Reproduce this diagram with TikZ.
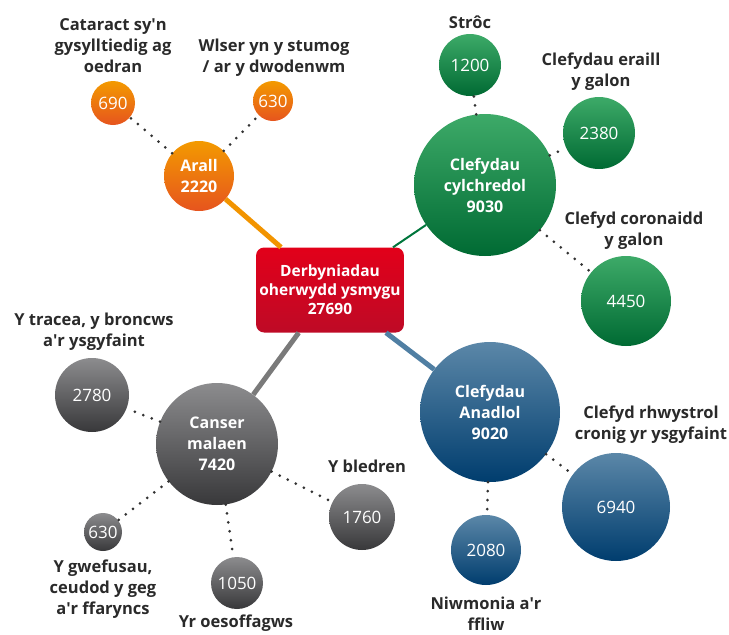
\documentclass[tikz,border=0pt]{standalone}
\usepackage{fontspec}
\setmainfont{Open Sans}
\usetikzlibrary{positioning}

\definecolor{orangetop}{HTML}{F39A00}
\definecolor{orangebot}{HTML}{E6541E}
\definecolor{greentop}{HTML}{3DAA68}
\definecolor{greenbot}{HTML}{006A33}
\definecolor{bluetop}{HTML}{5B87A8}
\definecolor{bluebot}{HTML}{003D6E}
\definecolor{greytop}{HTML}{8C8C8E}
\definecolor{greybot}{HTML}{38383A}
\definecolor{redtop}{HTML}{E2001A}
\definecolor{redbot}{HTML}{BE0A26}
\definecolor{labelgrey}{HTML}{2A2A2A}
\definecolor{dotgrey}{HTML}{333333}

\tikzset{
    bubble/.style={circle, inner sep=0pt, text=white, align=center,
        font=\bfseries\fontsize{16}{21}\selectfont},
    smallbubble/.style={circle, inner sep=0pt, text=white,
        font=\fontsize{17}{19}\selectfont},
    orangeball/.style={top color=orangetop, bottom color=orangebot},
    greenball/.style={top color=greentop, bottom color=greenbot},
    blueball/.style={top color=bluetop, bottom color=bluebot},
    greyball/.style={top color=greytop, bottom color=greybot},
    centrebox/.style={rounded corners=8pt, minimum width=147pt, minimum height=85pt,
        top color=redtop, bottom color=redbot, text=white, align=center,
        font=\bfseries\fontsize{15.5}{19}\selectfont},
    caption/.style={align=center, text=labelgrey, inner sep=0pt,
        font=\bfseries\fontsize{16.5}{21}\selectfont},
    link/.style={line width=5pt},
    dotlink/.style={dotgrey, line width=3pt, line cap=round, dash pattern=on 0pt off 9pt}
}

\begin{document}
\begin{tikzpicture}[x=1pt,y=-1pt]
    \useasboundingbox (0,0) rectangle (729,635);

    % Centre box
    \node[centrebox] (total) at (330,290) {Derbyniadau\\oherwydd ysmygu\\27690};

    % Arall
    \node[bubble, orangeball, minimum size=70pt] (arall) at (199,176) {Arall\\2220};
    \node[smallbubble, orangeball, minimum size=44pt] (cataract) at (113,103) {690};
    \node[smallbubble, orangeball, minimum size=40pt] (wlser) at (273,101) {630};

    % Clefydau cylchredol
    \node[bubble, greenball, minimum size=142pt] (cylch) at (485,185) {Clefydau\\cylchredol\\9030};
    \node[smallbubble, greenball, minimum size=62pt] (stroc) at (470,65) {1200};
    \node[smallbubble, greenball, minimum size=72pt] (eraill) at (599,133) {2380};
    \node[smallbubble, greenball, minimum size=90pt] (coron) at (626,301) {4450};

    % Clefydau anadlol
    \node[bubble, blueball, minimum size=140pt] (anadl) at (490,412) {Clefydau\\Anadlol\\9020};
    \node[smallbubble, blueball, minimum size=108pt] (rhwystr) at (616,507) {6940};
    \node[smallbubble, blueball, minimum size=70pt] (niwmonia) at (486,550) {2080};

    % Canser malaen
    \node[bubble, greyball, minimum size=122pt] (canser) at (217,444) {Canser\\malaen\\7420};
    \node[smallbubble, greyball, minimum size=74pt] (tracea) at (92,395) {2780};
    \node[smallbubble, greyball, minimum size=66pt] (bledren) at (362,517) {1760};
    \node[smallbubble, greyball, minimum size=52pt] (oesoff) at (237,583) {1050};
    \node[smallbubble, greyball, minimum size=38pt] (gwefus) at (103,532) {630};

    % Labels
    \node[caption] (lcataract) at (113,46) {Cataract sy\textquotesingle n\\gysylltiedig ag\\oedran};
    \node[caption] (lwlser) at (274,58) {Wlser yn y stumog\\/ ar y dwodenwm};
    \node[caption] (lstroc) at (470,22) {Strôc};
    \node[caption] (leraill) at (601,72) {Clefydau eraill\\y galon};
    \node[caption] (lcoron) at (634,231) {Clefyd coronaidd\\y galon};
    \node[caption] (lrhwystr) at (651,425) {Clefyd rhwystrol\\cronig yr ysgyfaint};
    \node[caption] (lniwmonia) at (486,614) {Niwmonia a\textquotesingle r\\ffliw};
    \node[caption] (lbledren) at (367,466) {Y bledren};
    \node[caption] (loesoff) at (236,623) {Yr oesoffagws};
    \node[caption] (lgwefus) at (103,589) {Y gwefusau,\\ceudod y geg\\a\textquotesingle r ffaryncs};
    \node[caption] (ltracea) at (94,332) {Y tracea, y broncws\\a\textquotesingle r ysgyfaint};

    % Links to the centre
    \draw[link, color={rgb,255:red,242;green,148;blue,0}] (arall) -- (total);
    \draw[line width=2pt, color={rgb,255:red,0;green,118;blue,60}] (cylch) -- (total);
    \draw[link, color={rgb,255:red,80;green,127;blue,163}] (anadl) -- (total);
    \draw[link, color={rgb,255:red,122;green,122;blue,122}] (canser) -- (total);

    % Dotted links
    \draw[dotlink] (arall) -- (cataract);
    \draw[dotlink] (arall) -- (wlser);
    \draw[dotlink] (cylch) -- (stroc);
    \draw[dotlink] (cylch) -- (eraill);
    \draw[dotlink] (cylch) -- (coron);
    \draw[dotlink] (anadl) -- (rhwystr);
    \draw[dotlink] (anadl) -- (niwmonia);
    \draw[dotlink] (canser) -- (tracea);
    \draw[dotlink] (canser) -- (bledren);
    \draw[dotlink] (canser) -- (oesoff);
    \draw[dotlink] (canser) -- (gwefus);

\end{tikzpicture}
\end{document}
